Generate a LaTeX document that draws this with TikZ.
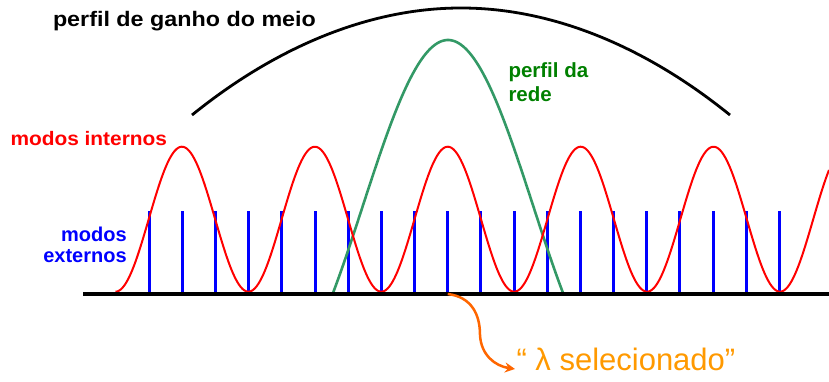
\documentclass[tikz,border=0pt]{standalone}
\usepackage{fontspec}
\setmainfont{Liberation Sans}
\usetikzlibrary{arrows.meta}
\definecolor{gridgreen}{RGB}{51,153,102}
\definecolor{txtgreen}{RGB}{0,128,0}
\definecolor{arrorange}{RGB}{255,102,0}
\definecolor{txtorange}{RGB}{255,153,0}
\definecolor{modeblue}{RGB}{0,0,255}
\definecolor{modered}{RGB}{255,0,0}
\tikzset{
  lbl/.style={inner sep=0pt, outer sep=0pt},
  extmode/.style={draw=modeblue, line width=3pt},
  intmode/.style={draw=modered, line width=2pt},
  gridprof/.style={draw=gridgreen, line width=2.6pt},
  gainprof/.style={draw=black, line width=2.8pt},
  axisline/.style={draw=black, line width=3.3pt},
  selarrow/.style={draw=arrorange, line width=2.5pt, -{Stealth[length=10pt,width=10pt]}}
}
\begin{document}
\begin{tikzpicture}[x=1pt,y=-1pt]
\useasboundingbox (0,0) rectangle (829,382);
% external modes
\foreach \k in {0,...,19} {
  \coordinate (t\k) at ({149.3+33.16*\k},211);
  \coordinate (b\k) at ({149.3+33.16*\k},294);
  \draw[extmode] (t\k) -- (b\k);
}
% grating profile
\draw[gridprof] plot[domain=-115.5:115.5, samples=120, smooth] ({448+\x},{40+167*(1-cos(1.052*\x))});
% internal modes
\draw[intmode] plot[domain=115.5:829, samples=400, smooth] (\x,{219.2+72.5*cos((\x-115.5)/132.9*360)});
% gain profile
\coordinate (g1) at (192,115);
\coordinate (gb) at (461,8);
\coordinate (g2) at (730,115);
\draw[gainprof] (g1) parabola bend (gb) (g2);
% axis
\coordinate (ax1) at (83,294);
\coordinate (ax2) at (829,294);
\draw[axisline] (ax1) -- (ax2);
% labels
\node[lbl, anchor=base west] (gainlbl) at (53,26.5) {\fontsize{21}{25}\selectfont\bfseries\scalebox{1.11}[1]{perfil de ganho do meio}};
\node[lbl, anchor=base west, text=modered] (intlbl) at (10.5,146) {\fontsize{19.5}{23}\selectfont\bfseries\scalebox{1.07}[1]{modos internos}};
\node[lbl, anchor=base west, text=txtgreen] (gridlbl1) at (508.5,77.7) {\fontsize{20.5}{24}\selectfont\bfseries perfil da};
\node[lbl, anchor=base west, text=txtgreen] (gridlbl2) at (508.5,101.7) {\fontsize{20.5}{24}\selectfont\bfseries rede};
\node[lbl, anchor=base east, text=modeblue] (extlbl1) at (126.7,241) {\fontsize{20}{24}\selectfont\bfseries modos};
\node[lbl, anchor=base east, text=modeblue] (extlbl2) at (126.7,262.5) {\fontsize{20}{24}\selectfont\bfseries externos};
\node[lbl, anchor=base west, text=txtorange] (sellbl) at (516.5,370.7) {\fontsize{31}{36}\selectfont “ λ selecionado”};
% selection arrow
\coordinate (arrend) at (515,369);
\draw[selarrow] (b9) .. controls (472,297) and (480,315) .. (480,335) .. controls (481,355) and (495,366) .. (arrend);
\end{tikzpicture}
\end{document}
